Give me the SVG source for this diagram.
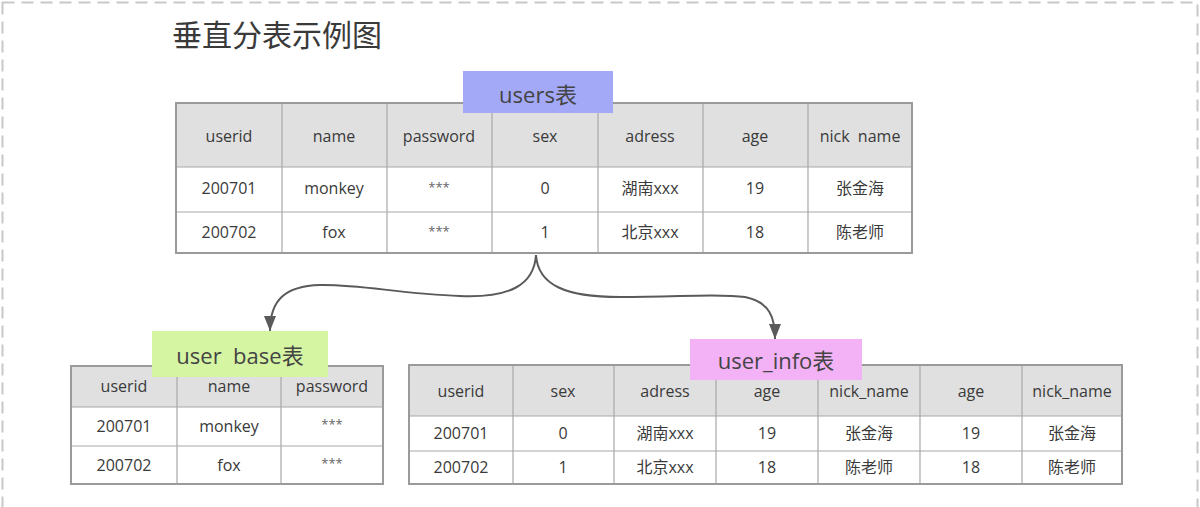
<svg xmlns="http://www.w3.org/2000/svg" width="1200" height="507" viewBox="0 0 1200 507">
<style>
.t{font-family:"Open Sans","Noto Sans CJK SC",sans-serif;fill:#3a3a3a;text-anchor:middle;dominant-baseline:central;white-space:pre}
.h{font-size:16px}
.d{font-size:16px}
.s{font-size:13px;fill:#666}
.title{font-family:"Noto Sans CJK SC","Noto Sans",sans-serif;font-size:30px;fill:#3a3a3a}
.lbl{font-family:"Open Sans","Noto Sans CJK SC",sans-serif;font-size:22px;fill:#444;text-anchor:middle;dominant-baseline:central;white-space:pre}
.hd{fill:#e0e0e0}
.bg{fill:#ffffff}
.grid{stroke:#a8a8a8;stroke-width:1.2;fill:none}
.outer{stroke:#9a9a9a;stroke-width:2;fill:none}
.conn{stroke:#5a5a5a;stroke-width:2;fill:none}
</style>
<defs>
<marker id="arr" markerUnits="userSpaceOnUse" markerWidth="16" markerHeight="12" refX="15" refY="6" orient="auto">
<path d="M0,0 L15,6 L0,12 z" fill="#5a5a5a"/>
</marker>
</defs>
<rect x="0" y="0" width="1200" height="507" fill="#ffffff"/>
<rect x="2.5" y="2.5" width="1195" height="540" fill="none" stroke="#c8c8c8" stroke-width="2" stroke-dasharray="12,7"/>
<text class="title" x="172" y="46">垂直分表示例图</text>

<g id="connectors">
<path class="conn" d="M536,255 C534,285 510,298 460,296 C400,294 360,284 320,285 C285,286 270,300 270,331" marker-end="url(#arr)"/>
<path class="conn" d="M536,255 C538,285 565,297 620,297 C680,297 720,293 745,297 C770,302 775,318 775,339" marker-end="url(#arr)"/>
</g>

<g id="users">
<rect class="bg" x="176" y="103" width="736" height="150"/>
<rect class="hd" x="176" y="103" width="736" height="64"/>
<path class="grid" d="M176,167H912M176,212H912M282,103V253M387,103V253M492,103V253M598,103V253M703,103V253M808,103V253"/>
<rect class="outer" x="176" y="103" width="736" height="150"/>
<text class="t h" x="229" y="136">userid</text>
<text class="t h" x="334" y="136">name</text>
<text class="t h" x="439" y="136">password</text>
<text class="t h" x="545" y="136">sex</text>
<text class="t h" x="650" y="136">adress</text>
<text class="t h" x="755" y="136">age</text>
<text class="t h" x="860" y="136">nick  name</text>
<text class="t d" x="229" y="188">200701</text>
<text class="t d" x="334" y="188">monkey</text>
<text class="t s" x="439" y="187">***</text>
<text class="t d" x="545" y="188">0</text>
<text class="t d" x="650" y="188">湖南xxx</text>
<text class="t d" x="755" y="188">19</text>
<text class="t d" x="860" y="188">张金海</text>
<text class="t d" x="229" y="232">200702</text>
<text class="t d" x="334" y="232">fox</text>
<text class="t s" x="439" y="231">***</text>
<text class="t d" x="545" y="232">1</text>
<text class="t d" x="650" y="232">北京xxx</text>
<text class="t d" x="755" y="232">18</text>
<text class="t d" x="860" y="232">陈老师</text>
<rect x="463" y="71" width="150" height="42" fill="#a3a8f7"/>
<text class="lbl" x="538" y="94">users表</text>
</g>

<g id="user_base">
<rect class="bg" x="71" y="366" width="312" height="118"/>
<rect class="hd" x="71" y="366" width="312" height="41"/>
<path class="grid" d="M71,407H383M71,446H383M177,366V484M281,366V484"/>
<rect class="outer" x="71" y="366" width="312" height="118"/>
<text class="t h" x="124" y="386">userid</text>
<text class="t h" x="229" y="386">name</text>
<text class="t h" x="332" y="386">password</text>
<text class="t d" x="124" y="426">200701</text>
<text class="t d" x="229" y="426">monkey</text>
<text class="t s" x="332" y="424">***</text>
<text class="t d" x="124" y="465">200702</text>
<text class="t d" x="229" y="465">fox</text>
<text class="t s" x="332" y="463">***</text>
<rect x="152" y="331" width="176" height="46" fill="#d5f5a3"/>
<text class="lbl" x="240" y="355">user  base表</text>
</g>

<g id="user_info">
<rect class="bg" x="409" y="365" width="713" height="119"/>
<rect class="hd" x="409" y="365" width="713" height="51"/>
<path class="grid" d="M409,416H1122M409,451H1122M513,365V484M614,365V484M716,365V484M818,365V484M920,365V484M1022,365V484"/>
<rect class="outer" x="409" y="365" width="713" height="119"/>
<text class="t h" x="461" y="391">userid</text>
<text class="t h" x="563" y="391">sex</text>
<text class="t h" x="665" y="391">adress</text>
<text class="t h" x="767" y="391">age</text>
<text class="t h" x="869" y="391">nick_name</text>
<text class="t h" x="971" y="391">age</text>
<text class="t h" x="1072" y="391">nick_name</text>
<text class="t d" x="461" y="433">200701</text>
<text class="t d" x="563" y="433">0</text>
<text class="t d" x="665" y="433">湖南xxx</text>
<text class="t d" x="767" y="433">19</text>
<text class="t d" x="869" y="433">张金海</text>
<text class="t d" x="971" y="433">19</text>
<text class="t d" x="1072" y="433">张金海</text>
<text class="t d" x="461" y="467">200702</text>
<text class="t d" x="563" y="467">1</text>
<text class="t d" x="665" y="467">北京xxx</text>
<text class="t d" x="767" y="467">18</text>
<text class="t d" x="869" y="467">陈老师</text>
<text class="t d" x="971" y="467">18</text>
<text class="t d" x="1072" y="467">陈老师</text>
<rect x="690" y="339" width="172" height="41" fill="#f2b2f5"/>
<text class="lbl" x="776" y="360">user_info表</text>
</g>
</svg>
